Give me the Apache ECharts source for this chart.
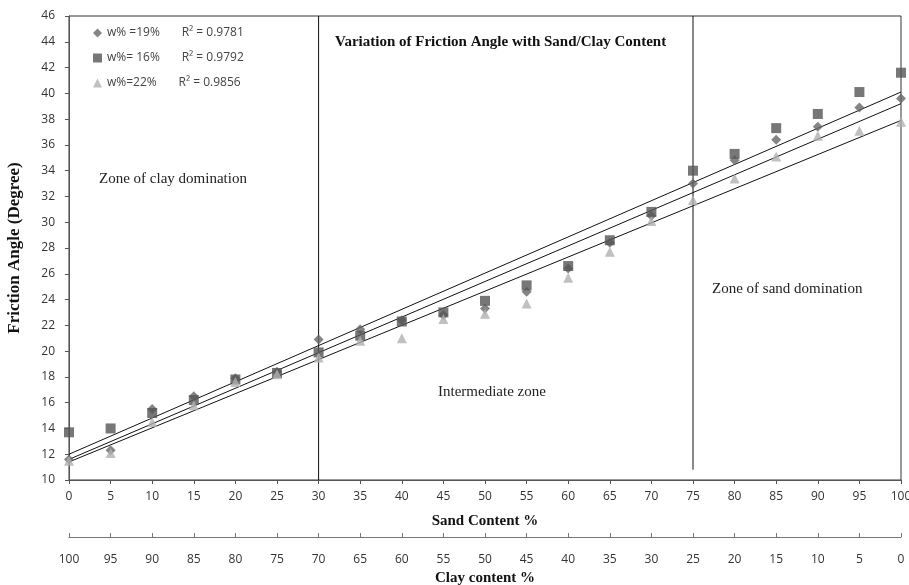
<!DOCTYPE html>
<html><head><meta charset="utf-8">
<script src="https://cdn.jsdelivr.net/npm/echarts@6/dist/echarts.min.js"></script>
<style>html,body{margin:0;padding:0;background:#fff}#c{width:909px;height:585px}</style>
</head><body><div id="c"></div>
<script>
const sand = [0,5,10,15,20,25,30,35,40,45,50,55,60,65,70,75,80,85,90,95,100];
const clayTicks = [100,95,90,85,80,75,70,65,60,55,50,45,40,35,30,25,20,15,10,5,0];
const w19 = [11.6,12.3,15.5,16.5,17.9,18.4,20.9,21.7,22.4,22.8,23.3,24.6,26.4,28.4,30.5,33.0,34.8,36.4,37.4,38.9,39.6];
const w16 = [13.7,14.0,15.2,16.2,17.8,18.3,19.9,21.2,22.3,23.0,23.9,25.1,26.6,28.6,30.8,34.0,35.3,37.3,38.4,40.1,41.6];
const w22 = [11.5,12.1,14.5,15.8,17.6,18.2,19.5,20.8,21.0,22.5,22.9,23.7,25.7,27.7,30.1,31.7,33.4,35.1,36.7,37.1,37.8];
const trend19 = [[0,11.6],[100,39.2]];
const trend16 = [[0,12.0],[100,40.1]];
const trend22 = [[0,11.4],[100,37.9]];
const r2 = {"w% =19%":"0.9781","w%= 16%":"0.9792","w%=22%":"0.9856"};
const vline30 = [[30,10],[30,46]];
const vline75 = [[75,10.8],[75,46]];

const pair = (arr) => sand.map((x,i)=>[x,arr[i]]);
const serif = 'Liberation Serif';
const chart = echarts.init(document.getElementById('c'));
const lineS = (data) => ({type:'line', data, symbol:'none', silent:true, lineStyle:{color:'#111', width:1}, z:3});
chart.setOption({
  animation:false,
  grid:{left:69, right:8, top:16, bottom:105, show:true, borderColor:'#333', borderWidth:1, outerBoundsMode:'none', containLabel:false},
  title:{text:'Variation of Friction Angle with Sand/Clay Content', left:330, top:30,
    textStyle:{fontFamily:serif, fontWeight:'bold', fontSize:15, color:'#111'}},
  legend:{orient:'vertical', left:88, top:22, itemGap:13, itemWidth:9, itemHeight:9,
    data:['w% =19%','w%= 16%','w%=22%'],
    formatter:(n)=>n+'       R\u00B2 = '+r2[n],
    textStyle:{fontFamily:'Open Sans', fontSize:12, color:'#444'}},
  graphic:[
    {type:'text', left:99, top:172, style:{text:'Zone of clay domination', font:'15px "Liberation Serif"', fill:'#222'}},
    {type:'text', left:438, top:385, style:{text:'Intermediate zone', font:'15px "Liberation Serif"', fill:'#222'}},
    {type:'text', left:712, top:282, style:{text:'Zone of sand domination', font:'15px "Liberation Serif"', fill:'#222'}}
  ],
  xAxis:[
    {type:'value', min:0, max:100, interval:5, position:'bottom',
     name:'Sand Content %', nameLocation:'middle', nameGap:34,
     nameTextStyle:{fontFamily:serif, fontWeight:'bold', fontSize:15, color:'#111'},
     axisLine:{lineStyle:{color:'#555'}}, axisTick:{show:true, length:4, lineStyle:{color:'#555'}},
     splitLine:{show:false},
     axisLabel:{margin:11, fontFamily:'Open Sans', fontSize:12, color:'#333'}},
    {type:'value', min:0, max:100, interval:5, position:'bottom', offset:57,
     name:'Clay content %', nameLocation:'middle', nameGap:33,
     nameTextStyle:{fontFamily:serif, fontWeight:'bold', fontSize:15, color:'#111'},
     axisLine:{show:true, lineStyle:{color:'#777'}}, axisTick:{show:true, length:-4, lineStyle:{color:'#777'}},
     splitLine:{show:false},
     axisLabel:{margin:17, fontFamily:'Open Sans', fontSize:12, color:'#333',
       formatter:(v)=>String(clayTicks[Math.round(v/5)])}}
  ],
  yAxis:{type:'value', min:10, max:46, interval:2,
    name:'Friction Angle (Degree)', nameLocation:'middle', nameGap:46, nameRotate:90,
    nameTextStyle:{fontFamily:serif, fontWeight:'bold', fontSize:17, color:'#111'},
    axisLine:{show:true, lineStyle:{color:'#555'}}, axisTick:{show:true, length:4, lineStyle:{color:'#555'}},
    splitLine:{show:false},
    axisLabel:{margin:14, fontFamily:'Open Sans', fontSize:12, color:'#333'}},
  series:[
    lineS(vline30), lineS(vline75),
    lineS(trend19), lineS(trend16), lineS(trend22),
    {name:'w% =19%', type:'scatter', data:pair(w19), symbol:'diamond', symbolSize:10, itemStyle:{color:'#666'}, z:4},
    {name:'w%= 16%', type:'scatter', data:pair(w16), symbol:'rect', symbolSize:10, itemStyle:{color:'#555'}, z:5},
    {name:'w%=22%', type:'scatter', data:pair(w22), symbol:'triangle', symbolSize:10, itemStyle:{color:'#b0b0b0'}, z:6}
  ]
});
</script></body></html>
